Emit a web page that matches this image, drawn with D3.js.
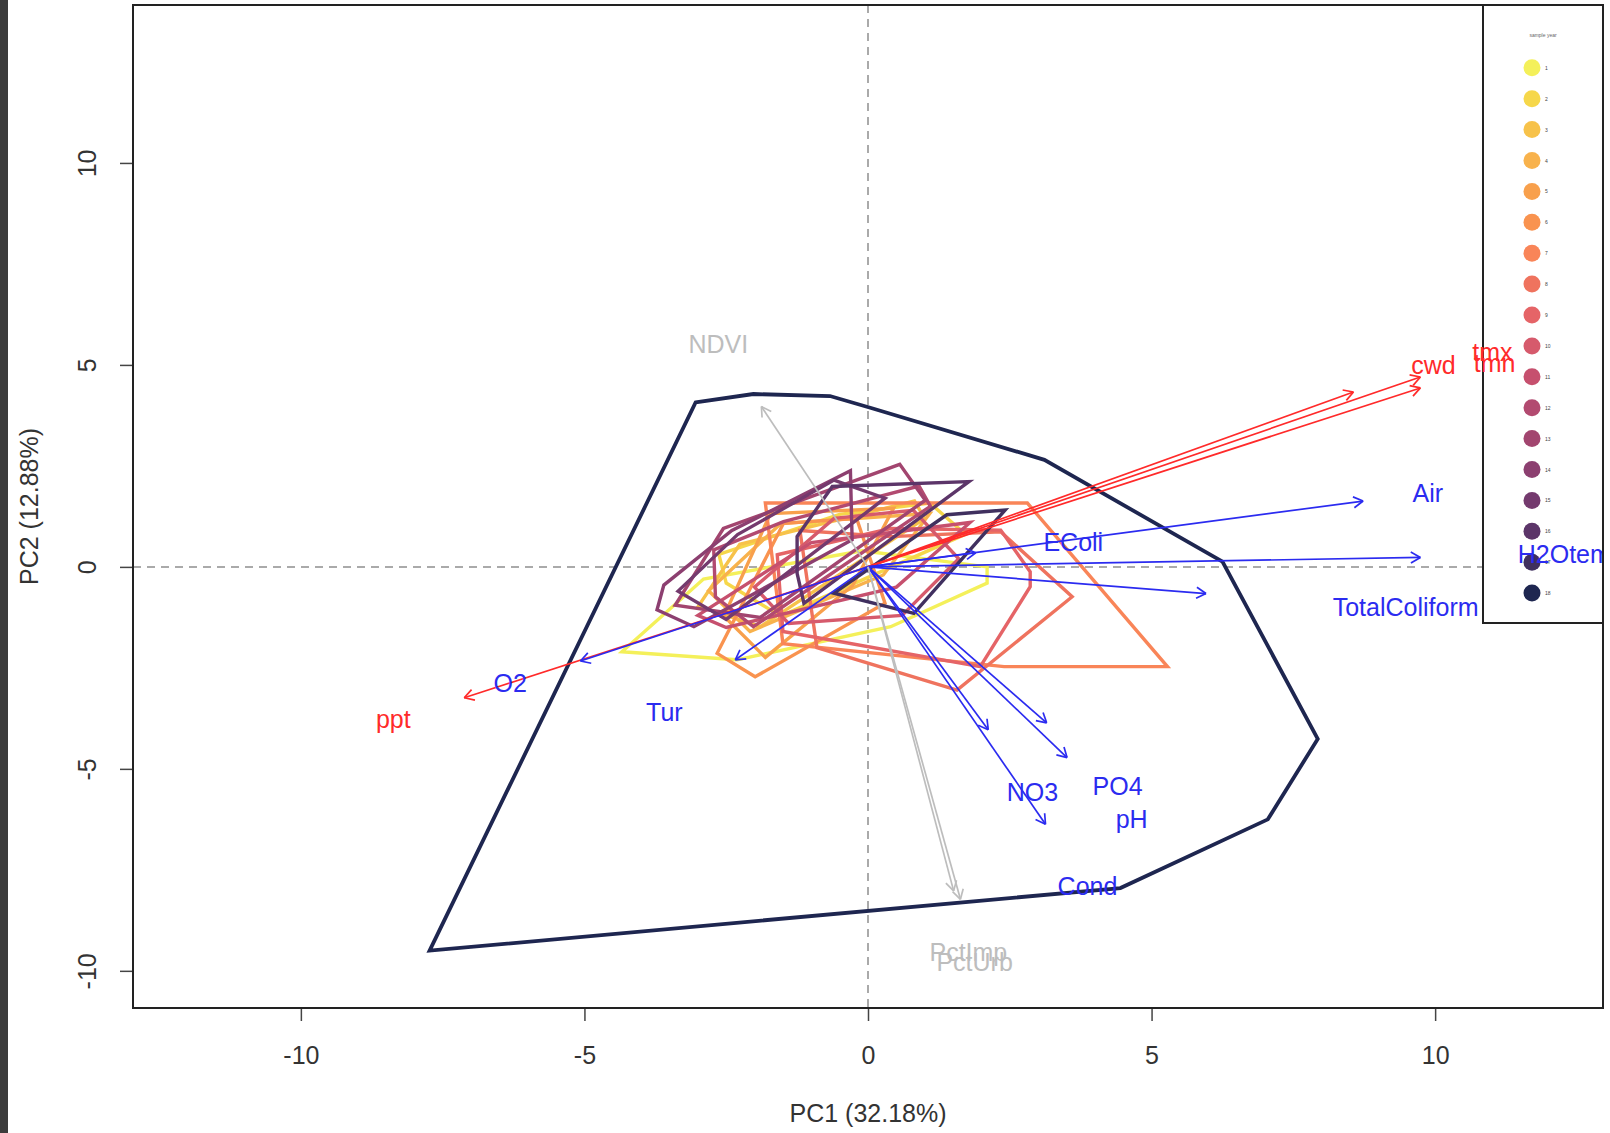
<!DOCTYPE html>
<html>
<head>
<meta charset="utf-8">
<script src="https://cdn.jsdelivr.net/npm/d3@7"></script>
<style>
  body { margin: 0; background: #fff; }
  svg { display: block; font-family: "Liberation Sans", Arial, sans-serif; }
</style>
</head>
<body>
<svg id="chart"></svg>
<script>
/* données */
const xTicks = [-10, -5, 0, 5, 10]
const yTicks = [-10, -5, 0, 5, 10]
const xTitle = 'PC1 (32.18%)'
const yTitle = 'PC2 (12.88%)'

// groupes (légende) et palette
const groupLabels = ['1','2','3','4','5','6','7','8','9','10','11','12','13','14','15','16','17','18']
const groupColors = ['#f4f05a','#f6d74a','#f7c24a','#f8b24c','#f8a04c','#f9934f','#f98558','#ef735e','#e56467',
                     '#d65a6c','#c6506e','#b24a70','#a2456f','#8c3f70','#743a6e','#5c3569','#40305f','#1e2650']
const legendTitle = 'sample year'

// enveloppes convexes de chaque groupe (PC1, PC2)
const hulls = [
  [[-4.34,-2.10],[-2.31,-2.30],[0.40,-1.48],[2.10,-0.40],[2.10,0.0],[-0.1,0.4],[-2.9,-0.3]],
  [[-2.63,0.31],[-0.5,1.3],[1.09,1.58],[1.72,0.81],[-1.54,-1.22],[-2.5,-0.4]],
  [[-2.99,-0.97],[-2.26,0.56],[0.82,1.63],[1.0,1.20],[-1.90,-1.48]],
  [[-2.81,-0.59],[-1.54,1.07],[1.09,1.32],[0.27,-0.20],[-2.08,-1.60]],
  [[-2.54,-1.22],[-1.72,1.32],[0.45,1.45],[-0.27,-0.46],[-1.81,-2.24]],
  [[-2.66,-2.14],[-1.99,-2.72],[0.3,-0.9],[-0.2,1.2],[-1.49,1.08]],
  [[-1.81,1.58],[2.81,1.58],[5.28,-2.47],[2.4,-2.47],[-1.5,-1.9]],
  [[-1.2,0.9],[0.4,0.75],[2.34,0.87],[3.60,-0.74],[1.57,-3.05],[-0.9,-2.0]],
  [[-1.6,0.3],[0.4,0.95],[2.34,0.91],[2.86,-0.12],[2.86,-0.49],[1.98,-2.47],[-1.5,-1.6]],
  [[-2.0,-0.5],[-0.6,1.2],[0.8,1.4],[1.6,0.2],[0.6,-1.2],[-1.4,-1.4]],
  [[-3.0,-1.2],[-1.0,0.6],[1.8,1.1],[0.5,-0.5],[-2.5,-1.5]],
  [[-2.72,0.42],[-1.49,1.12],[0.9,2.0],[1.1,1.5],[-2.02,-1.48],[-2.69,-0.74]],
  [[-3.4,-0.95],[-2.55,0.95],[0.56,2.54],[1.01,1.65],[-1.9,-1.25]],
  [[-3.72,-1.06],[-3.60,-0.45],[-2.4,0.9],[-0.31,2.38],[-0.28,0.67],[-3.07,-1.48]],
  [[-3.35,-0.6],[-2.3,0.8],[-0.6,2.15],[0.3,1.7],[-2.5,-1.3]],
  [[-1.25,0.75],[-0.63,1.99],[1.78,2.11],[-1.13,-0.90],[-1.25,-0.16]],
  [[-0.60,-0.65],[1.39,1.29],[2.42,1.41],[0.81,-1.15]],
  [[-3.04,4.07],[-2.02,4.28],[-0.67,4.23],[0.04,3.94],[3.11,2.65],[6.25,0.13],[7.93,-4.26],[7.05,-6.25],[4.45,-7.95],[-7.73,-9.50]]
]

// variables : extrémité des flèches et position des étiquettes
const varNames = ['NDVI','cwd','tmx','tmn','ppt','O2','Tur','EColi','Air','H2Otemp','TotalColiform','NO3','PO4','pH','Cond','PctImp','PctUrb']
const varType  = ['land','climate','climate','climate','climate','water','water','water','water','water','water','water','water','water','water','land','land']
const varX     = [-1.88, 8.56, 9.74, 9.74, -7.12, -5.07, -2.34, 1.90, 8.73, 9.74, 5.96, 2.12, 3.15, 3.51, 3.13, 1.51, 1.63]
const varY     = [ 3.97, 4.33, 4.70, 4.43, -3.24, -2.33, -2.30, 0.35, 1.63, 0.235, -0.66, -4.03, -3.86, -4.72, -6.37, -8.02, -8.23]
const labelX   = [-2.64, 9.97, 11.01, 11.05, -8.37, -6.31, -3.59, 3.62, 9.87, 12.40, 9.48, 2.90, 4.40, 4.65, 3.87, 1.77, 1.88]
const labelY   = [ 5.50, 5.00, 5.32, 5.05, -3.76, -2.87, -3.61, 0.62, 1.83, 0.31, -1.01, -5.59, -5.43, -6.24, -7.90, -9.55, -9.78]
const typeColor = {climate: '#ff2a2a', water: '#2b2bf0', land: '#bdbdbd'}

/* dimensions */
const width = 1610, height = 1133
const plot = {left: 133, right: 1603, top: 5, bottom: 1008}
const fontSize = 25

const svg = d3.select('#chart').attr('width', width).attr('height', height)

// bande sombre à gauche
svg.append('rect').attr('x', 0).attr('y', 0).attr('width', 8).attr('height', height).attr('fill', '#3c3c3c')

const xScale = d3.scaleLinear().domain([-12.96, 12.96]).range([plot.left, plot.right])
const yScale = d3.scaleLinear().domain([-10.92, 13.91]).range([plot.bottom, plot.top])

svg.append('clipPath').attr('id', 'clip')
   .append('rect')
   .attr('x', plot.left).attr('y', plot.top)
   .attr('width', plot.right - plot.left).attr('height', plot.bottom - plot.top)

const inner = svg.append('g').attr('clip-path', 'url(#clip)')

/* lignes pointillées à zéro */
inner.append('line')
     .attr('x1', xScale(0)).attr('x2', xScale(0))
     .attr('y1', plot.top).attr('y2', plot.bottom)
     .attr('stroke', '#aaaaaa').attr('stroke-width', 2).attr('stroke-dasharray', '8,6')
inner.append('line')
     .attr('x1', plot.left).attr('x2', plot.right)
     .attr('y1', yScale(0)).attr('y2', yScale(0))
     .attr('stroke', '#aaaaaa').attr('stroke-width', 2).attr('stroke-dasharray', '8,6')

/* enveloppes */
const hullLine = d3.line().x(d => xScale(d[0])).y(d => yScale(d[1])).curve(d3.curveLinearClosed)
inner.selectAll('path.hull')
     .data(hulls)
     .enter()
     .append('path')
     .attr('class', 'hull')
     .attr('d', d => hullLine(d))
     .attr('fill', 'none')
     .attr('stroke', (d, i) => groupColors[i])
     .attr('stroke-width', (d, i) => i === hulls.length - 1 ? 3.8 : 3.4)
     .attr('stroke-linejoin', 'miter')

/* flèches des variables */
const headLen = 11
varNames.forEach((name, i) => {
    const x0 = xScale(0), y0 = yScale(0)
    const x1 = xScale(varX[i]), y1 = yScale(varY[i])
    const col = typeColor[varType[i]]
    const ang = Math.atan2(y1 - y0, x1 - x0)
    const g = inner.append('g').attr('stroke', col).attr('stroke-width', 1.7).attr('fill', 'none')
    g.append('line').attr('x1', x0).attr('y1', y0).attr('x2', x1).attr('y2', y1)
    ;[-Math.PI / 6, Math.PI / 6].forEach(a => {
        g.append('line')
         .attr('x1', x1).attr('y1', y1)
         .attr('x2', x1 - headLen * Math.cos(ang + a))
         .attr('y2', y1 - headLen * Math.sin(ang + a))
    })
})

/* légende */
const legend = {x: 1483, y: 5, w: 120, h: 618, firstY: 67.8, step: 30.9, dotX: 1532}
inner.append('rect')
     .attr('x', legend.x).attr('y', legend.y).attr('width', legend.w).attr('height', legend.h)
     .attr('fill', '#fff').attr('stroke', '#222').attr('stroke-width', 2)
inner.append('text')
     .attr('x', 1543).attr('y', 37)
     .attr('text-anchor', 'middle').attr('font-size', 5).attr('fill', '#666')
     .text(legendTitle)
inner.selectAll('circle.leg')
     .data(groupLabels)
     .enter()
     .append('circle')
     .attr('class', 'leg')
     .attr('cx', legend.dotX)
     .attr('cy', (d, i) => legend.firstY + i * legend.step)
     .attr('r', 8.5)
     .attr('fill', (d, i) => groupColors[i])
inner.selectAll('text.leg')
     .data(groupLabels)
     .enter()
     .append('text')
     .attr('class', 'leg')
     .attr('x', legend.dotX + 13)
     .attr('y', (d, i) => legend.firstY + i * legend.step + 2)
     .attr('font-size', 5).attr('fill', '#444')
     .text(d => d)

/* étiquettes des variables */
inner.selectAll('text.var')
     .data(varNames)
     .enter()
     .append('text')
     .attr('class', 'var')
     .attr('x', (d, i) => xScale(labelX[i]))
     .attr('y', (d, i) => yScale(labelY[i]))
     .attr('dy', '0.35em')
     .attr('text-anchor', 'middle')
     .attr('font-size', fontSize)
     .attr('fill', (d, i) => typeColor[varType[i]])
     .text(d => d)

/* axes */
const xAxis = d3.axisBottom(xScale).tickValues(xTicks).tickFormat(d => String(d)).tickSize(13).tickPadding(25)
const gx = svg.append('g').attr('transform', 'translate(0,' + plot.bottom + ')').call(xAxis)
gx.select('.domain').remove()
gx.selectAll('line').attr('stroke', '#444').attr('stroke-width', 1.5)
gx.selectAll('text').attr('font-size', fontSize).attr('fill', '#333')

const yAxis = d3.axisLeft(yScale).tickValues(yTicks).tickFormat(d => String(d)).tickSize(13)
const gy = svg.append('g').attr('transform', 'translate(' + plot.left + ',0)').call(yAxis)
gy.select('.domain').remove()
gy.selectAll('line').attr('stroke', '#444').attr('stroke-width', 1.5)
gy.selectAll('text')
  .attr('transform', 'rotate(-90)')
  .attr('x', 0).attr('y', -37).attr('dy', null)
  .attr('text-anchor', 'middle')
  .attr('font-size', fontSize).attr('fill', '#333')

svg.selectAll('.tick text').attr('font-family', '"Liberation Sans", Arial, sans-serif')

/* cadre */
svg.append('rect')
   .attr('x', plot.left).attr('y', plot.top)
   .attr('width', plot.right - plot.left).attr('height', plot.bottom - plot.top)
   .attr('fill', 'none').attr('stroke', '#222').attr('stroke-width', 2)

/* titres des axes */
svg.append('text')
   .attr('x', (plot.left + plot.right) / 2).attr('y', 1122)
   .attr('text-anchor', 'middle').attr('font-size', fontSize).attr('fill', '#333')
   .text(xTitle)
svg.append('text')
   .attr('transform', 'translate(38,' + ((plot.top + plot.bottom) / 2) + ') rotate(-90)')
   .attr('text-anchor', 'middle').attr('font-size', fontSize).attr('fill', '#333')
   .text(yTitle)
</script>
</body>
</html>
